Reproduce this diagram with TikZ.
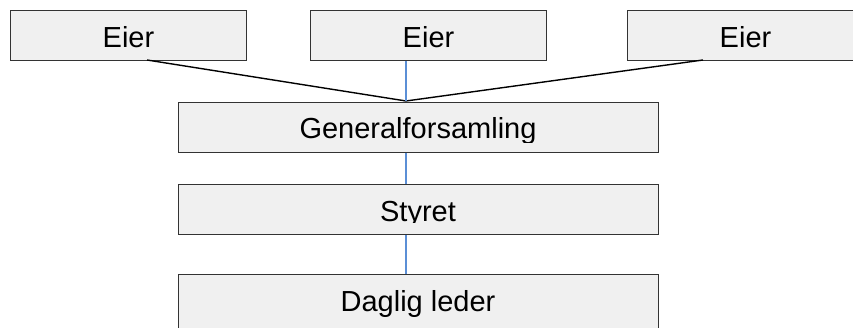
\documentclass[tikz,border=0pt]{standalone}
\usepackage{fontspec}
\setmainfont{Liberation Sans}
\definecolor{boxfill}{HTML}{F0F0F0}
\definecolor{boxline}{HTML}{333333}
\definecolor{linkblue}{HTML}{5B8FD6}
\begin{document}
\begin{tikzpicture}[x=1pt,y=-1pt,
  orgbox/.style={draw=boxline,fill=boxfill,line width=1pt,inner sep=0pt,anchor=north west},
  lbl/.style={anchor=base,inner sep=0pt,font=\fontsize{29}{32}\selectfont},
  blueln/.style={draw=linkblue,line width=1.3pt},
  blackln/.style={draw=black,line width=1.4pt}]
\useasboundingbox (0,0) rectangle (853,328);
\clip (0,0) rectangle (853,328);
% boxes
\node[orgbox,minimum width=236pt,minimum height=50pt] (e1) at (10,10) {};
\node[orgbox,minimum width=236pt,minimum height=50pt] (e2) at (310,10) {};
\node[orgbox,minimum width=236pt,minimum height=50pt] (e3) at (627,10) {};
\node[orgbox,minimum width=480pt,minimum height=50pt] (gf) at (178,102) {};
\node[orgbox,minimum width=480pt,minimum height=50pt] (st) at (178,184) {};
\node[orgbox,minimum width=480pt,minimum height=60pt] (dl) at (178,274) {};
% labels
\node[lbl] (t1) at ([yshift=-12pt]e1.center) {Eier};
\node[lbl] (t2) at ([yshift=-12pt]e2.center) {Eier};
\node[lbl] (t3) at ([yshift=-12pt]e3.center) {Eier};
\begin{scope}
\clip (178,102) rectangle (658,143);
\node[lbl] (t4) at (418,139) {Generalforsamling};
\end{scope}
\begin{scope}
\clip (178,184) rectangle (658,223);
\node[lbl] (t5) at (418,222) {Styret};
\end{scope}
\node[lbl] (t6) at (418,312) {Daglig leder};
% connectors
\coordinate (m) at (406,101);
\coordinate (a1) at (147,60);
\coordinate (a3) at (703,60);
\draw[blackln] (a1) -- (m) -- (a3);
\draw[blueln] (m |- e2.south) -- (m);
\draw[blueln] (m |- gf.south) -- (m |- st.north);
\draw[blueln] (m |- st.south) -- (m |- dl.north);
\end{tikzpicture}
\end{document}
